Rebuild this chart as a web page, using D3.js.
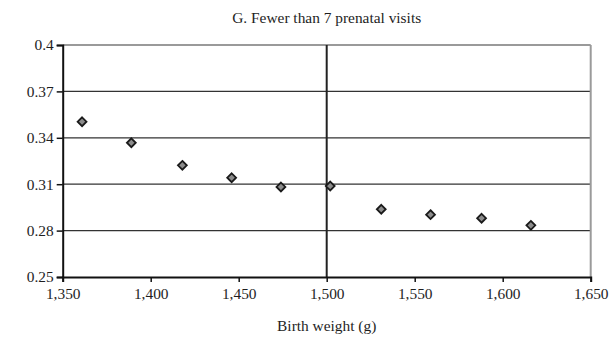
<!DOCTYPE html>
<html>
<head>
<meta charset="utf-8">
<script src="https://cdn.jsdelivr.net/npm/d3@7/dist/d3.min.js"></script>
<style>
  html, body { margin: 0; padding: 0; background: #fff; }
  svg { display: block; }
  text { font-family: "Liberation Serif", "Times New Roman", serif; fill: #1e1e1e; }
</style>
</head>
<body>
<svg id="chart" width="616" height="340"></svg>
<script>
// Proportion with fewer than 7 prenatal visits, by birth weight bin
const birthWeight = [1361, 1389, 1418, 1446, 1474, 1502, 1531, 1559, 1588, 1616];
const share = [0.3504, 0.3368, 0.3222, 0.3142, 0.3082, 0.3088, 0.2938, 0.2903, 0.2880, 0.2834];
const xTicks = [1350, 1400, 1450, 1500, 1550, 1600, 1650];
const yTicks = [0.25, 0.28, 0.31, 0.34, 0.37, 0.4];
const title = "G. Fewer than 7 prenatal visits";
const xTitle = "Birth weight (g)";

const svg = d3.select("#chart");
const W = 616, H = 340;
const m = { left: 62.7, right: W - 590.7, top: 45, bottom: H - 277 };
const FS = 15.4;

const x = d3.scaleLinear().domain([1350, 1650]).range([m.left, W - m.right]);
const y = d3.scaleLinear().domain([0.25, 0.4]).range([H - m.bottom, m.top]);

// horizontal gridlines
svg.append("g")
  .selectAll("line")
  .data(yTicks.filter(t => t > 0.25 && t < 0.4))
  .join("line")
  .attr("x1", x(1350)).attr("x2", x(1650))
  .attr("y1", d => y(d)).attr("y2", d => y(d))
  .attr("stroke", "#333").attr("stroke-width", 1.2);

// top and right frame
svg.append("line")
  .attr("x1", x(1350)).attr("x2", x(1650))
  .attr("y1", y(0.4)).attr("y2", y(0.4))
  .attr("stroke", "#9a9a9a").attr("stroke-width", 2);
svg.append("line")
  .attr("x1", x(1650)).attr("x2", x(1650))
  .attr("y1", y(0.4)).attr("y2", y(0.25))
  .attr("stroke", "#9a9a9a").attr("stroke-width", 2);

// reference line at 1,500 g
svg.append("line")
  .attr("x1", x(1500)).attr("x2", x(1500))
  .attr("y1", y(0.4)).attr("y2", y(0.25))
  .attr("stroke", "#222").attr("stroke-width", 2);

// axes
const fmt = d3.format(",");
const xAxis = svg.append("g")
  .attr("transform", `translate(0,${y(0.25)})`)
  .call(d3.axisBottom(x).tickValues(xTicks).tickFormat(fmt).tickSize(5).tickPadding(6));
const yAxis = svg.append("g")
  .attr("transform", `translate(${x(1350)},0)`)
  .call(d3.axisLeft(y).tickValues(yTicks).tickFormat(d => String(+d.toFixed(2))).tickSize(6).tickPadding(3));

[xAxis, yAxis].forEach(g => {
  g.attr("font-size", FS).attr("font-family", "Liberation Serif, serif");
  g.select(".domain").attr("stroke", "#111").attr("stroke-width", 2);
  g.selectAll(".tick line").attr("stroke", "#111").attr("stroke-width", 1.5);
  g.selectAll(".tick text").attr("fill", "#1e1e1e");
});

// markers
const diamond = d3.symbol().type(d3.symbolDiamond2).size(50);
svg.append("g")
  .selectAll("path")
  .data(birthWeight.map((b, i) => [b, share[i]]))
  .join("path")
  .attr("d", diamond)
  .attr("transform", d => `translate(${x(d[0])},${y(d[1])})`)
  .attr("fill", "#8c8c8c")
  .attr("stroke", "#1a1a1a")
  .attr("stroke-width", 1.8);

// titles
svg.append("text")
  .attr("x", x(1500)).attr("y", 23)
  .attr("text-anchor", "middle")
  .attr("font-size", FS)
  .text(title);
svg.append("text")
  .attr("x", x(1500)).attr("y", 331)
  .attr("text-anchor", "middle")
  .attr("font-size", FS)
  .text(xTitle);
</script>
</body>
</html>
